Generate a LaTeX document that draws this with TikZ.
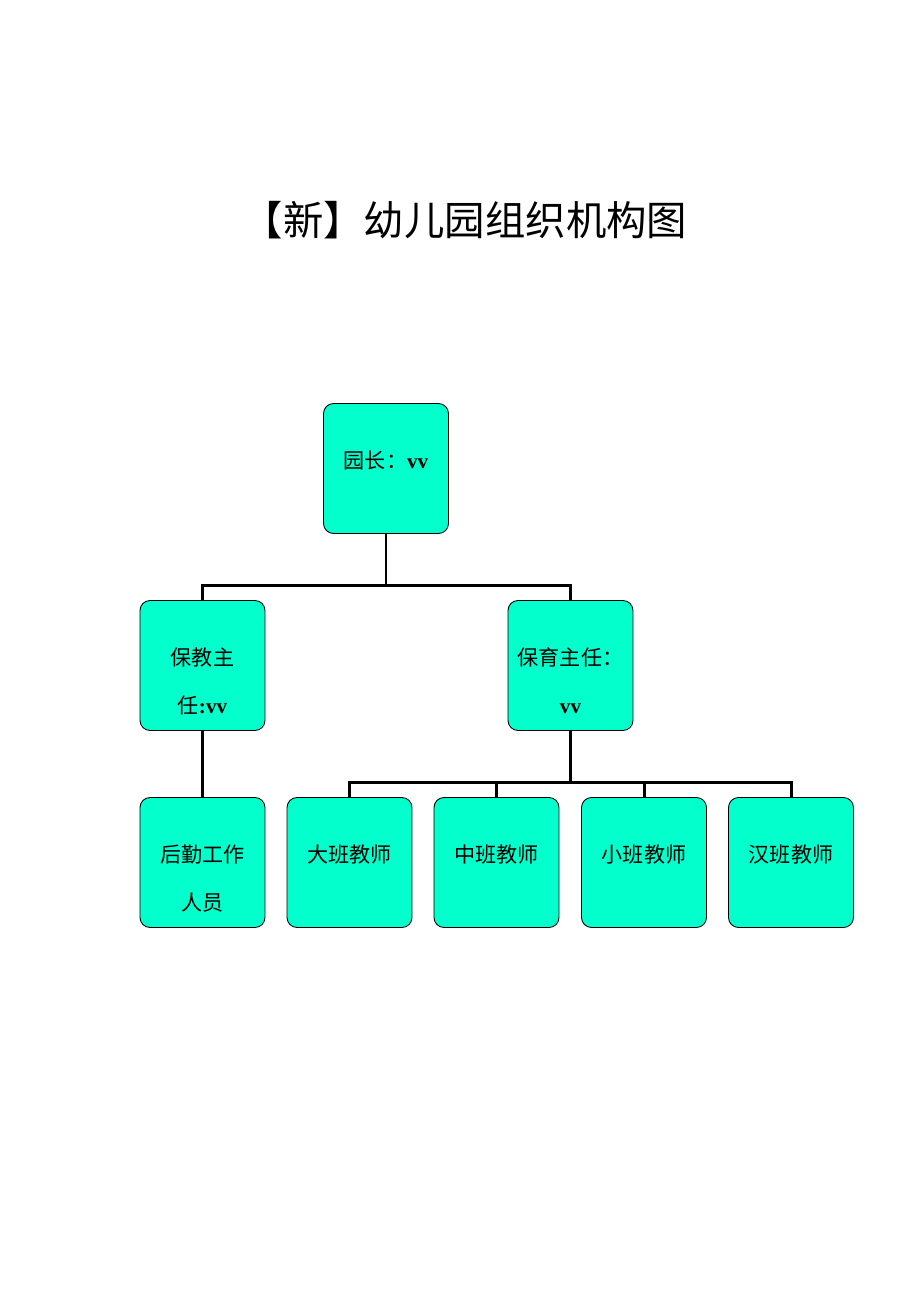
\documentclass[tikz,border=0pt]{standalone}
\usepackage{fontspec}
\setmainfont{Liberation Serif}
\newfontfamily\cjk{Noto Sans CJK SC}
\definecolor{boxfill}{RGB}{3,255,204}
\newcommand{\bvv}[1]{{\rmfamily\bfseries #1}}
\begin{document}
\begin{tikzpicture}[x=0.02cm,y=-0.02cm,
    unit/.style={draw=black,line width=0.5pt,fill=boxfill,rounded corners=0.2cm,
                 minimum width=2.5cm,minimum height=2.6cm,inner sep=0pt},
    txt/.style={anchor=north,inner sep=0pt,align=center,
                font=\cjk\fontsize{12}{27.3}\selectfont},
    link/.style={line width=1.7pt}]
    \useasboundingbox (0,0) rectangle (920,1302);
    {
    % Title
    \node[font=\cjk\fontsize{23}{27}\selectfont] (title) at (465,220) {【新】幼儿园组织机构图};

    % Drawing box 园长
    \node[unit] (yz) at (386,468.5) {};
    \node[txt] (yzt) at ([yshift=-0.94cm]yz.north) {园长：\bvv{vv}};

    % Drawing boxes 保教主任 and 保育主任
    \node[unit] (bj) at (202.5,665.5) {};
    \node[txt] (bjt) at ([yshift=-0.94cm]bj.north) {保教主\\任\bvv{:vv}};
    \node[unit] (by) at (570.5,665.5) {};
    \node[txt] (byt) at ([yshift=-0.94cm]by.north) {保育主任：\\\bvv{vv}};

    % Drawing bottom row
    \node[unit] (hq) at (202.5,862.5) {};
    \node[txt] (hqt) at ([yshift=-0.94cm]hq.north) {后勤工作\\人员};
    \node[unit] (db) at (349.5,862.5) {};
    \node[txt] (dbt) at ([yshift=-0.94cm]db.north) {大班教师};
    \node[unit] (zb) at (496.5,862.5) {};
    \node[txt] (zbt) at ([yshift=-0.94cm]zb.north) {中班教师};
    \node[unit] (xb) at (644,862.5) {};
    \node[txt] (xbt) at ([yshift=-0.94cm]xb.north) {小班教师};
    \node[unit] (hb) at (791,862.5) {};
    \node[txt] (hbt) at ([yshift=-0.94cm]hb.north) {汉班教师};

    % Drawing links from 园长
    \draw[link] (yz.south) -- (386,585) coordinate (j1);
    \draw[link] (bj.north) |- (j1) -| (by.north);

    % Drawing link 保教主任 后勤
    \draw[link] (bj.south) -- (hq.north);

    % Drawing links from 保育主任
    \draw[link] (by.south) -- (570.5,782) coordinate (j2);
    \draw[link] (db.north) |- (j2) -| (hb.north);
    \draw[link] (zb.north) -- (zb.north |- j2);
    \draw[link] (xb.north) -- (xb.north |- j2);
    }
\end{tikzpicture}
\end{document}
